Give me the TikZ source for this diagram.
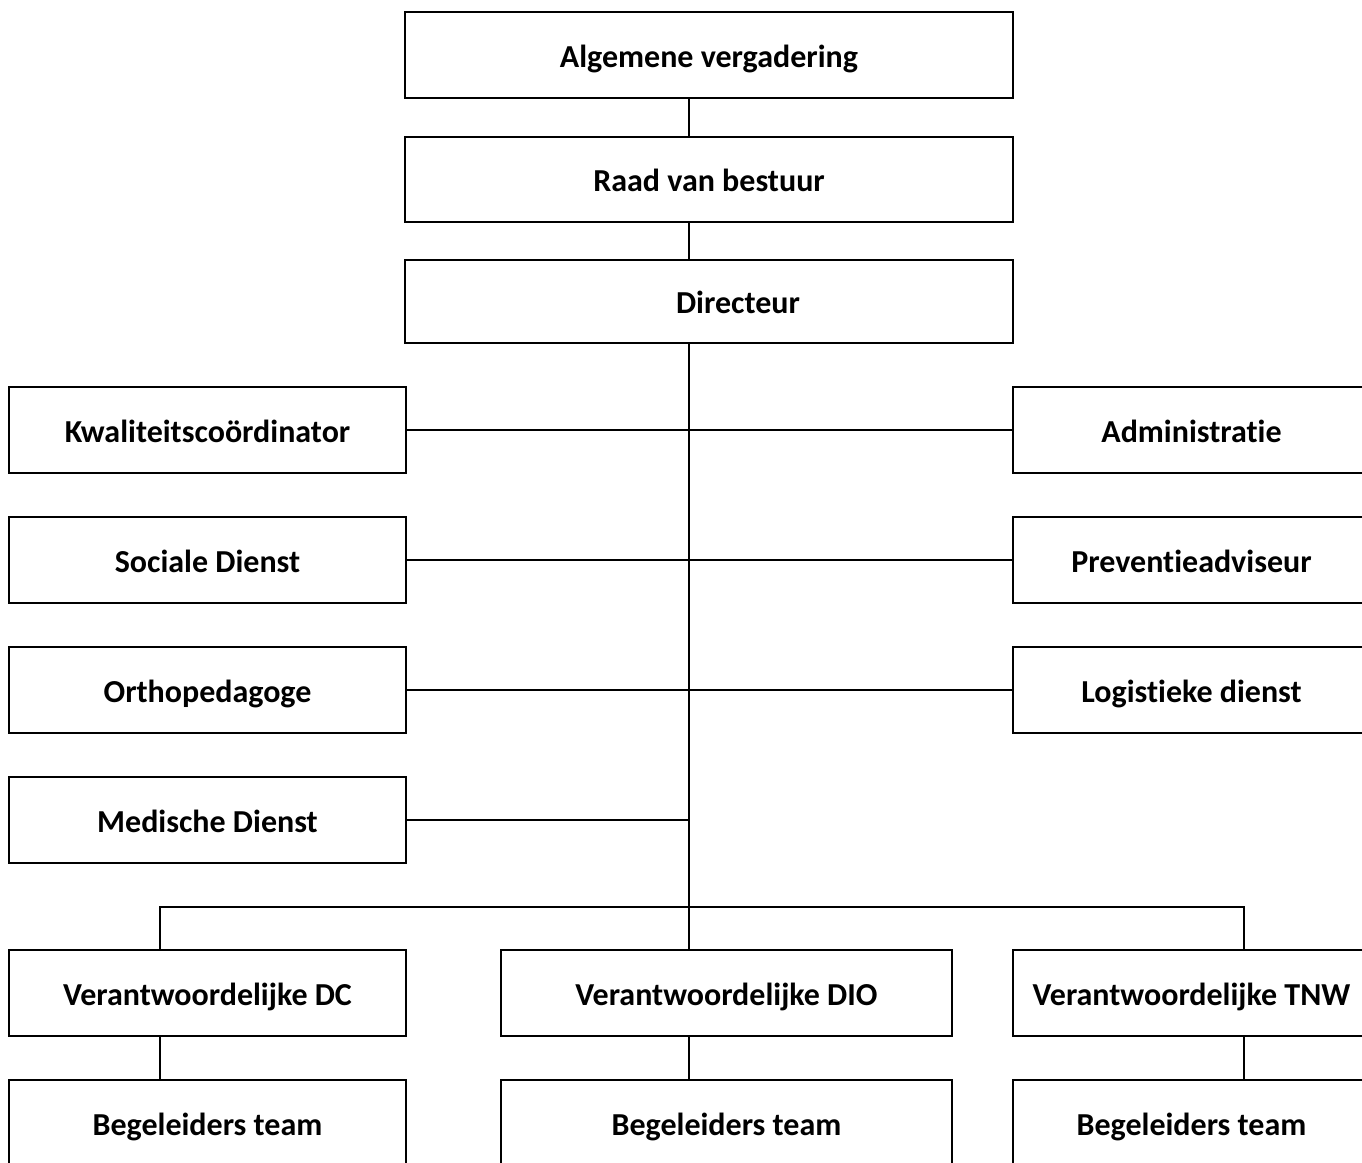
\documentclass[tikz,border=0pt]{standalone}
\usepackage{fontspec}
\setmainfont{Carlito}[RawFeature={-liga}]
\begin{document}
\begin{tikzpicture}[x=1pt,y=-1pt,
  box/.style={draw=black, line width=2.5pt, fill=white, inner sep=0pt, outer sep=0pt,
    font=\fontsize{32}{36}\selectfont\bfseries, text=black, text height=24pt, text depth=0pt},
  wide/.style={box, minimum width=608pt, minimum height=85pt},
  side/.style={box, minimum width=397pt, minimum height=86pt},
  rside/.style={box, minimum width=357pt, minimum height=86pt},
  mid/.style={box, minimum width=451pt, minimum height=86pt},
  conn/.style={line width=2.5pt, black}]
\useasboundingbox (0,0) rectangle (1362,1162);
\clip (0,0) rectangle (1362,1162);
\fill[white] (0,0) rectangle (1362,1162);
\coordinate (T) at (689,0);
\coordinate (L) at (160,907);
\coordinate (R) at (1244,907);
% boxes
\node[wide, minimum height=86pt] (AV) at (709,55) {Algemene vergadering};
\node[wide] (RB) at (709,179.5) {Raad van bestuur};
\node[wide, minimum height=83pt] (DIR) at (709,301.5) {\hspace*{58pt}Directeur};
\node[side] (KW) at (207.5,430) {Kwaliteitscoördinator};
\node[rside] (AD) at (1191.5,430) {Administratie};
\node[side] (SD) at (207.5,560) {Sociale Dienst};
\node[rside] (PA) at (1191.5,560) {Preventieadviseur};
\node[side] (OR) at (207.5,690) {Orthopedagoge};
\node[rside] (LD) at (1191.5,690) {Logistieke dienst};
\node[side] (MD) at (207.5,820) {Medische Dienst};
\node[side] (VDC) at (207.5,993) {Verantwoordelijke DC};
\node[mid] (VDIO) at (726.5,993) {Verantwoordelijke DIO};
\node[rside] (VTNW) at (1191.5,993) {Verantwoordelijke TNW};
\node[side] (BT1) at (207.5,1123) {Begeleiders team};
\node[mid] (BT2) at (726.5,1123) {Begeleiders team};
\node[rside] (BT3) at (1191.5,1123) {Begeleiders team};
% connectors
\draw[conn] (AV.south -| T) -- (RB.north -| T);
\draw[conn] (RB.south -| T) -- (DIR.north -| T);
\draw[conn] (DIR.south -| T) -- (VDIO.north -| T);
\draw[conn] (KW.east) -- (AD.west);
\draw[conn] (SD.east) -- (PA.west);
\draw[conn] (OR.east) -- (LD.west);
\draw[conn] (MD.east) -- (MD.east -| T);
\draw[conn] (VDC.north -| L) -- (L) -- (R) -- (VTNW.north -| R);
\draw[conn] (VDC.south -| L) -- (BT1.north -| L);
\draw[conn] (VDIO.south -| T) -- (BT2.north -| T);
\draw[conn] (VTNW.south -| R) -- (BT3.north -| R);
\end{tikzpicture}
\end{document}
